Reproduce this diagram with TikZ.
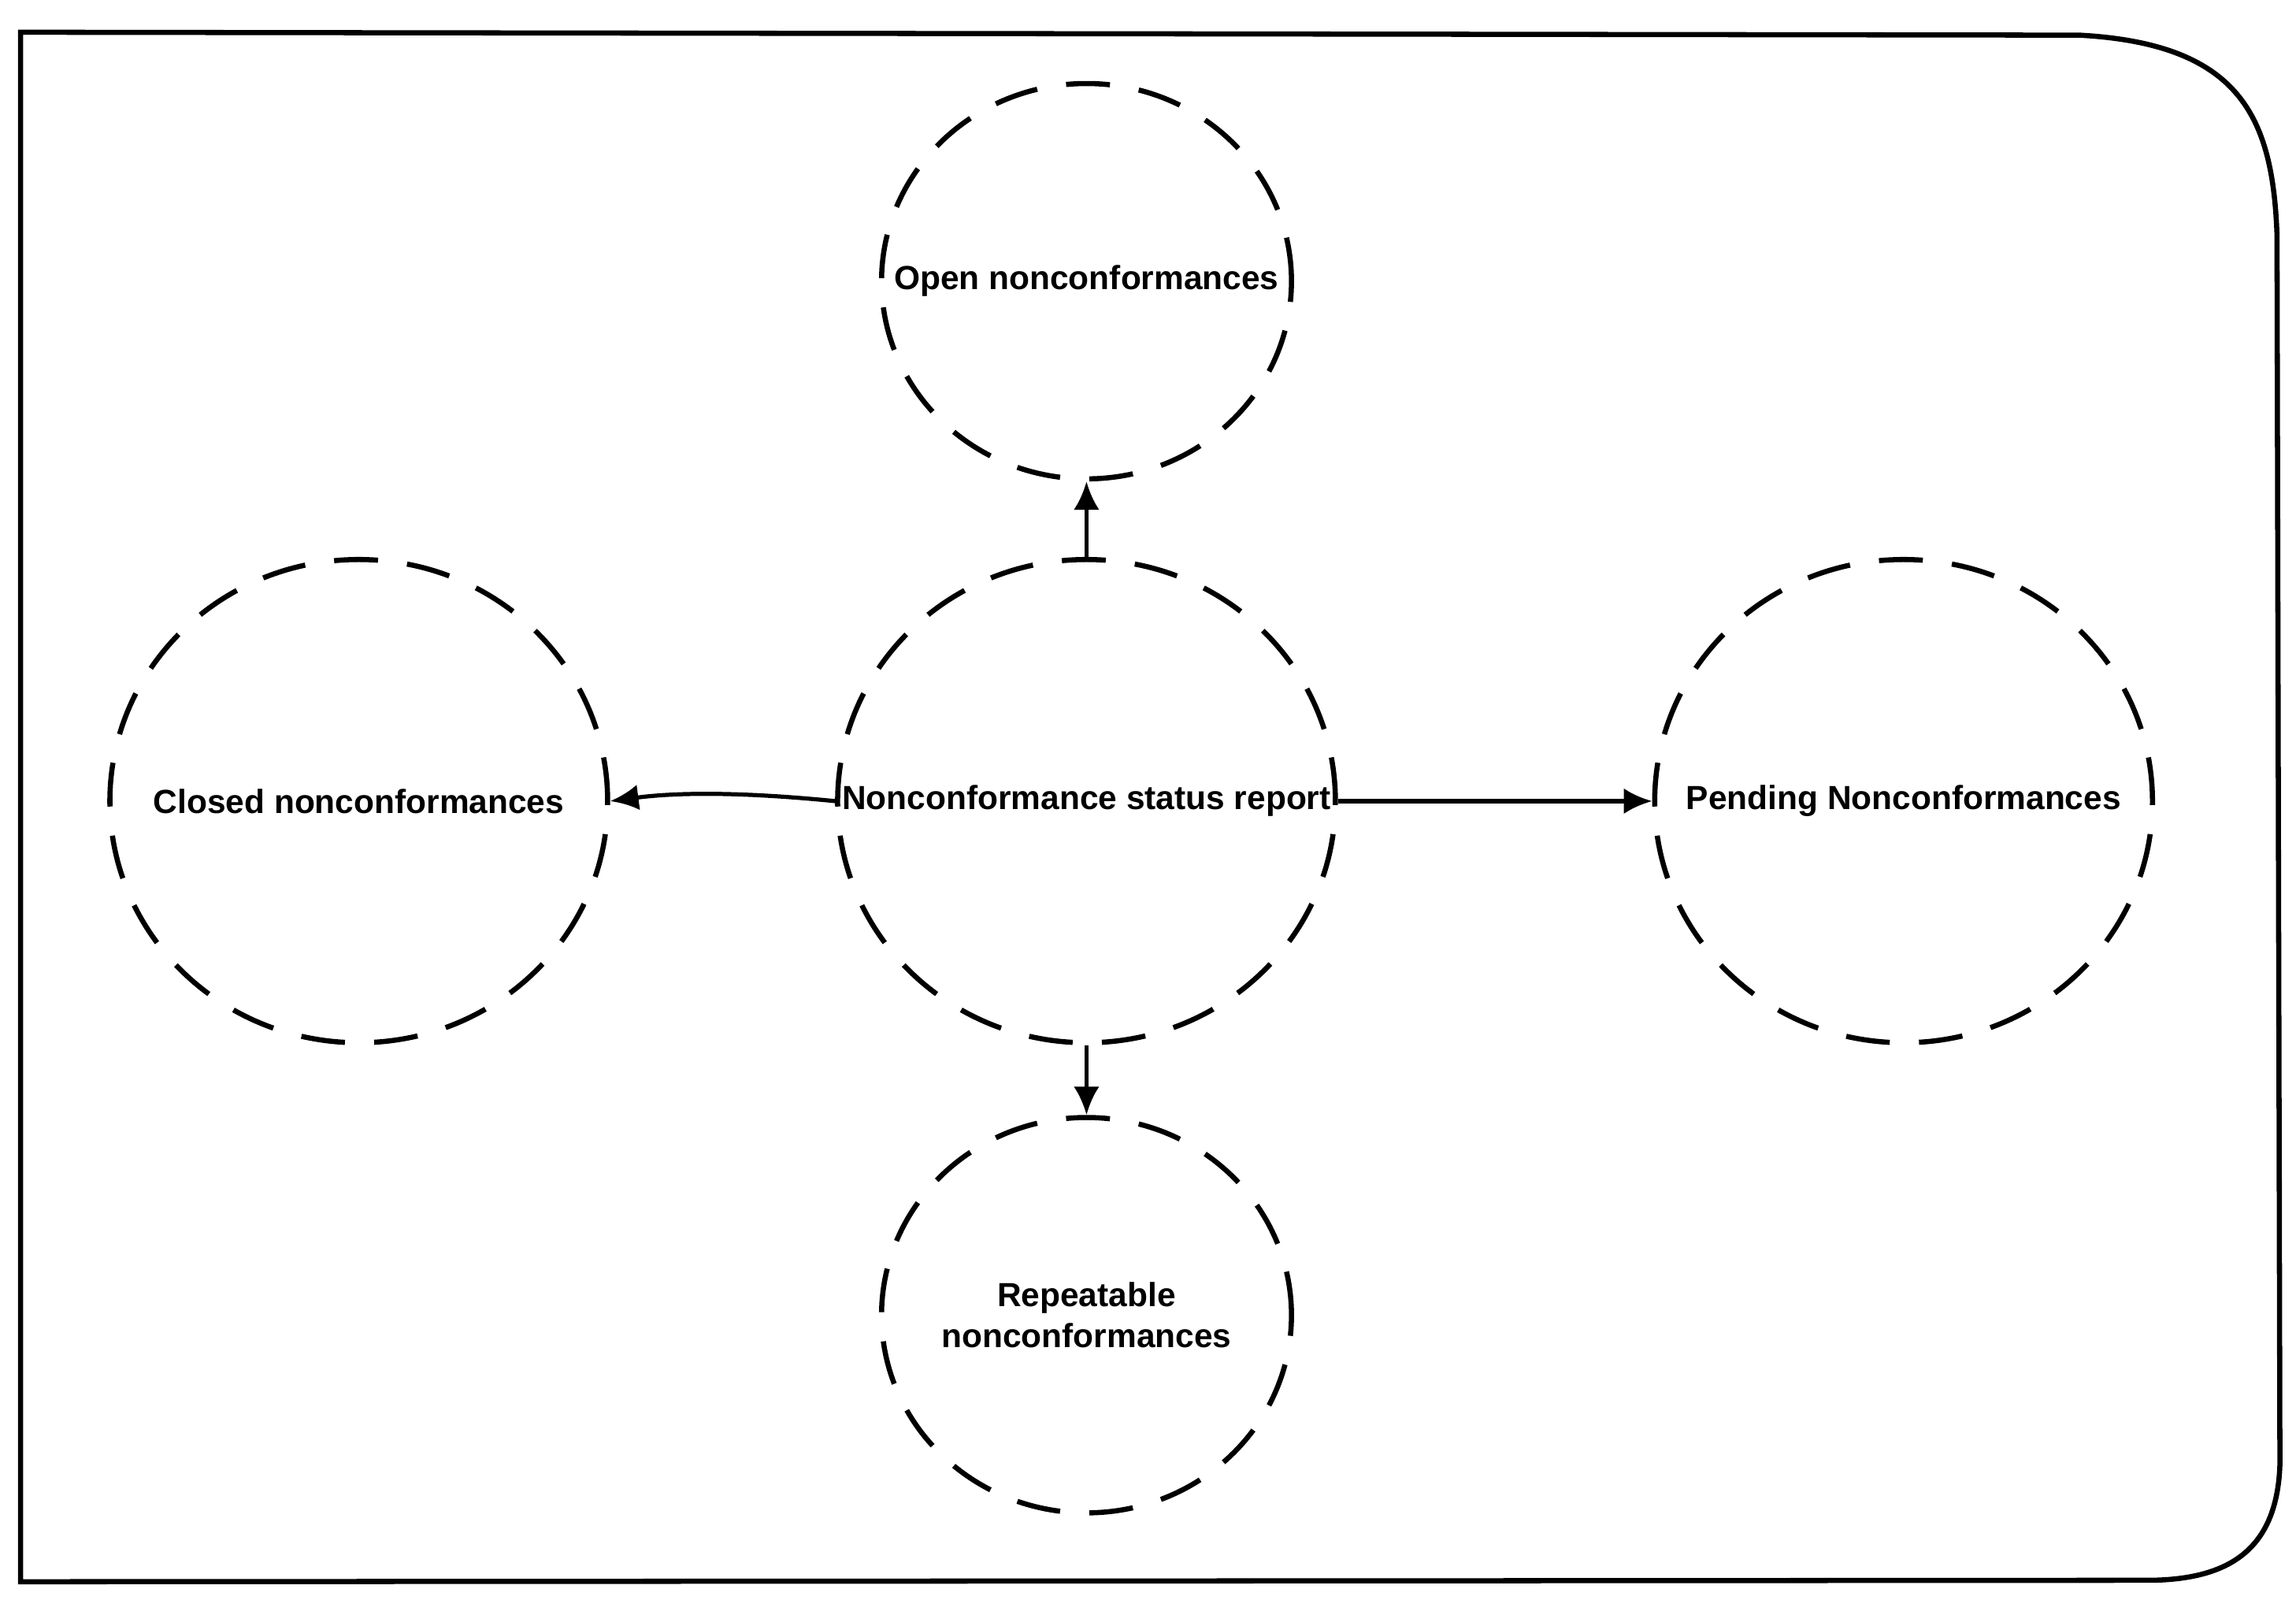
\documentclass[tikz,border=0pt]{standalone}
\usepackage{fontspec}
\setmainfont{Liberation Sans}
\usetikzlibrary{arrows.meta,shapes.geometric,positioning}
\tikzset{
  txt/.style={font=\bfseries\fontsize{13}{16}\selectfont, align=center},
  status/.style={ellipse, draw, line width=2pt, dash pattern=on 0.6cm off 0.4cm, inner sep=0pt},
  big/.style={status, minimum width=6.8cm, minimum height=6.6cm},
  small/.style={status, minimum width=5.6cm, minimum height=5.4cm},
  link/.style={-{Latex[length=11pt,width=10pt]}, line width=1.6pt}
}
\begin{document}
\begin{tikzpicture}[x=0.02cm,y=-0.02cm]
  \useasboundingbox (0,0) rectangle (1568,1092);
  % frame
  \draw[line width=2pt] (14,22) -- (1420,24) .. controls (1530,30) and (1552,80) .. (1555,160)
     -- (1557,1000) .. controls (1555,1060) and (1520,1078) .. (1470,1079) -- (14,1080) -- cycle;
  \node[big] (report) at (742,547) {};
  \node[small] (open) at (742,192) {};
  \node[big] (closed) at (245,547) {};
  \node[big] (pending) at (1300,547) {};
  \node[small] (repeat) at (742,898) {};
  \node[txt] at (report) {Nonconformance status report};
  \node[txt] at (open) {Open nonconformances};
  \node[txt] at (closed) {Closed nonconformances};
  \node[txt] at (pending) {Pending Nonconformances};
  \node[txt] at (repeat) {Repeatable\\nonconformances};
  \draw[link] (report.north) -- ++(0,-5) -| (open.south);
  \draw[link] (report.south) -- ++(0,5) -| (repeat.north);
  \draw[link] (report.west) .. controls (520,542) and (470,540) .. (closed.east);
  \draw[link] (report.east) -- (pending.west);
\end{tikzpicture}
\end{document}
